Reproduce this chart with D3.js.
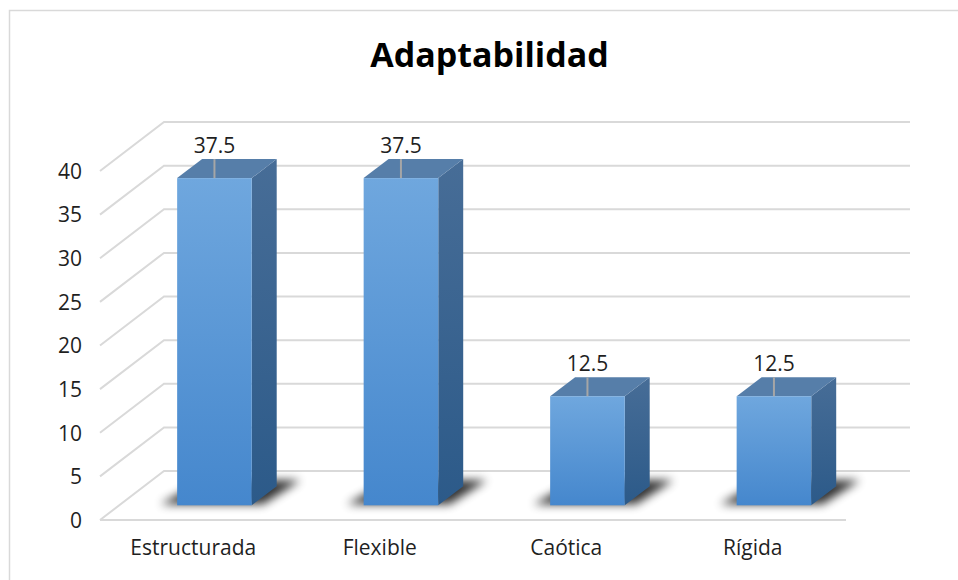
<!DOCTYPE html>
<html>
<head>
<meta charset="utf-8">
<script src="https://cdn.jsdelivr.net/npm/d3@7"></script>
<style>
  body { margin: 0; background: #fff; }
  text { font-family: 'Open Sans', 'Noto Sans', sans-serif; fill: #1f1f1f; }
</style>
</head>
<body>
<div class="canvas"></div>
<script>
// data
const categories = ['Estructurada', 'Flexible', 'Caótica', 'Rígida'];
const values = [37.5, 37.5, 12.5, 12.5];
const yTicks = [0, 5, 10, 15, 20, 25, 30, 35, 40];
const title = 'Adaptabilidad';

const svg = d3.select('.canvas')
  .append('svg')
  .attr('width', 958)
  .attr('height', 580);

/*--------------------------------
  SETUP
--------------------------------*/
// depth of the 3d box (back wall offset)
const DX = 64;
const DY = 49;
// bar depth range, as fraction of the box depth
const t0 = 0.3;
const t1 = 0.69;

const y = d3.scaleLinear().domain([0, 40]).range([520, 171]);
const x = d3.scaleBand().domain(categories).range([100, 846]);

// project a point (floor x, value, depth t) to screen
const p = (px, v, t) => [px + DX * t, y(v) - DY * t];
const pts = arr => arr.map(d => d.join(',')).join(' ');

const defs = svg.append('defs');

const gFront = defs.append('linearGradient').attr('id', 'front')
  .attr('x1', 0).attr('y1', 0).attr('x2', 0).attr('y2', 1);
gFront.append('stop').attr('offset', '0%').attr('stop-color', '#6fa7de');
gFront.append('stop').attr('offset', '100%').attr('stop-color', '#4587cd');

const gSide = defs.append('linearGradient').attr('id', 'side')
  .attr('x1', 0).attr('y1', 0).attr('x2', 0).attr('y2', 1);
gSide.append('stop').attr('offset', '0%').attr('stop-color', '#476d97');
gSide.append('stop').attr('offset', '100%').attr('stop-color', '#2c5a89');

defs.append('filter').attr('id', 'blur')
  .attr('x', '-50%').attr('y', '-50%').attr('width', '200%').attr('height', '200%')
  .append('feGaussianBlur').attr('stdDeviation', 5);

// chart frame
svg.append('rect')
  .attr('x', 9.5).attr('y', 10.5)
  .attr('width', 980).attr('height', 600)
  .attr('fill', '#fff')
  .attr('stroke', '#d9d9d9')
  .attr('stroke-width', 1.5);

// title
svg.append('text')
  .attr('x', 489.5)
  .attr('y', 67)
  .attr('text-anchor', 'middle')
  .attr('font-size', 34)
  .attr('font-weight', 'bold')
  .style('fill', '#000')
  .text(title);

/*--------------------------------
  WALLS & GRID
--------------------------------*/
const [xa, xb] = x.range();
const grid = svg.append('g')
  .attr('stroke', '#d9d9d9')
  .attr('stroke-width', 2)
  .attr('fill', 'none');

yTicks.forEach((v) => {
  const a = p(xa, v, 0);
  const b = p(xa, v, 1);
  const c = p(xb, v, 1);
  grid.append('polyline').attr('points', pts([a, b, c]));
});
// floor front edge
grid.append('line')
  .attr('x1', p(xa, 0, 0)[0]).attr('y1', p(xa, 0, 0)[1])
  .attr('x2', p(xb, 0, 0)[0]).attr('y2', p(xb, 0, 0)[1]);

/*--------------------------------
  AXES
--------------------------------*/
const yAxis = d3.axisLeft(y).tickValues(yTicks).tickSize(0).tickPadding(0);
svg.append('g')
  .attr('transform', 'translate(82,0)')
  .call(yAxis)
  .call(g => g.select('.domain').remove())
  .selectAll('text')
  .attr('font-size', 21)
  .attr('font-family', null)
  .attr('dy', '0.35em');

const xAxis = d3.axisBottom(x).tickSize(0).tickPadding(0);
svg.append('g')
  .attr('transform', 'translate(0,536)')
  .call(xAxis)
  .call(g => g.select('.domain').remove())
  .selectAll('text')
  .attr('font-size', 21)
  .attr('font-family', null)
  .attr('dy', '0.9em');

svg.selectAll('.tick text').style('fill', '#1f1f1f');

/*--------------------------------
  BARS
--------------------------------*/
const bw = x.step() * 0.4;
const bars = svg.append('g');

categories.forEach((cat, i) => {
  const v = values[i];
  const cx = x(cat) + x.bandwidth() / 2 + 2;
  const x0 = cx - bw / 2;
  const x1 = cx + bw / 2;
  const g = bars.append('g');

  // soft shadow on the floor
  g.append('polygon')
    .attr('points', pts([p(x0 - 18, 0, t0 + 0.02), p(x1 + 10, 0, t0 + 0.02),
      p(x1 + 16, 0, t1 + 0.12), p(x0 - 6, 0, t1 + 0.12)]))
    .attr('fill', '#000')
    .attr('opacity', 0.8)
    .attr('filter', 'url(#blur)');

  // side face
  g.append('polygon')
    .attr('points', pts([p(x1, 0, t0), p(x1, v, t0), p(x1, v, t1), p(x1, 0, t1)]))
    .attr('fill', 'url(#side)');

  // top face
  g.append('polygon')
    .attr('points', pts([p(x0, v, t0), p(x1, v, t0), p(x1, v, t1), p(x0, v, t1)]))
    .attr('fill', '#567ea9');

  // front face
  const [fx, fy] = p(x0, v, t0);
  const [, fb] = p(x0, 0, t0);
  g.append('rect')
    .attr('x', fx).attr('y', fy)
    .attr('width', bw).attr('height', fb - fy)
    .attr('fill', 'url(#front)');

  // label leader and value
  const lx = fx + bw / 2;
  g.append('line')
    .attr('x1', lx).attr('x2', lx)
    .attr('y1', fy).attr('y2', fy - 19)
    .attr('stroke', '#a6a6a6')
    .attr('stroke-width', 2);

  g.append('text')
    .attr('x', lx)
    .attr('y', fy - 25)
    .attr('text-anchor', 'middle')
    .attr('font-size', 21)
    .text(v);
});
</script>
</body>
</html>
